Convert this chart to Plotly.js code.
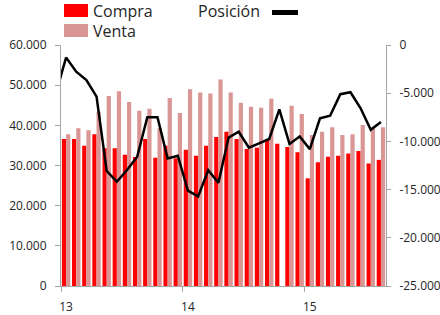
<!DOCTYPE html>
<html>
<head>
<meta charset="utf-8">
<script src="https://cdn.plot.ly/plotly-3.0.1.min.js"></script>
<style>
  html, body { margin: 0; padding: 0; background: #fff; }
  #chart { width: 440px; height: 315px; }
</style>
</head>
<body>
<div id="chart"></div>
<script>
// Months Jan 2013 .. Aug 2015 (index 0..31); index -1 = Dec 2012 (only the clipped line start is visible)
var months = [];
for (var i = 0; i < 32; i++) months.push(i);

var compra = [36600, 36600, 34900, 37800, 34300, 34300, 32700, 32100, 36600, 31900, 34900, 31800,
              33900, 32400, 34900, 37100, 38400, 36600, 34100, 34400, 36600, 35400, 34600, 33300,
              26800, 30800, 32200, 32400, 33000, 33600, 30500, 31400];

var venta = [37800, 39300, 38800, 43400, 47300, 48500, 45800, 43600, 44100, 39300, 46800, 43100,
             49000, 48200, 47900, 51400, 48200, 45600, 44600, 44400, 46600, null, 44900, 42800,
             37600, 38400, 39500, 37600, 37800, 40100, 39300, 39500];

var posMonths = [-1].concat(months);
var posicion = [-5000, -1300, -2770, -3630, -5360, -13070, -14180, -12970, -11590, -7500, -7500, -11760, -11480,
                -15100, -15700, -13000, -14300, -9600, -9000, -10650, -10200, -9750, -6670, -10270, -9500,
                -10800, -7600, -7330, -5100, -4900, -6570, -8800, -8000];

var yearTickVals = [0, 12, 24];
var yearTickText = ['13', '14', '15'];

var rightTickVals = [0, -5000, -10000, -15000, -20000, -25000];
var rightTickText = ['0', '-5.000', '-10.000', '-15.000', '-20.000', '-25.000'];

var FONT = 'Open Sans, Noto Sans, sans-serif';
var AXIS = '#A6A6A6';
var TXT = '#262626';

var traces = [
  { type: 'bar', name: 'Compra', x: months, y: compra, marker: { color: '#FF0000' }, yaxis: 'y', showlegend: false },
  { type: 'bar', name: 'Venta', x: months, y: venta, marker: { color: '#D99694' }, yaxis: 'y', showlegend: false },
  { type: 'scatter', mode: 'lines', name: 'Posición', x: posMonths, y: posicion, yaxis: 'y2',
    line: { color: '#000000', width: 2.5 }, showlegend: false }
];

// plot area: x 61..386, y 45..286
function px(X) { return (X - 61) / 325; }
function py(Y) { return (286 - Y) / 241; }

var layout = {
  width: 440, height: 315,
  margin: { l: 61, r: 54, t: 45, b: 29, pad: 0 },
  paper_bgcolor: '#ffffff', plot_bgcolor: '#ffffff',
  separators: ',.',
  font: { family: FONT, size: 12, color: TXT },
  barmode: 'group', bargap: 0.17, bargroupgap: 0,
  showlegend: false,
  xaxis: {
    range: [-0.5, 31.5], showgrid: false, zeroline: false,
    showline: true, linecolor: AXIS, linewidth: 1,
    tickmode: 'array', tickvals: yearTickVals, ticktext: yearTickText,
    ticks: '', ticklabelstandoff: 10,
    minor: { tick0: -0.5, dtick: 12, ticks: 'outside', ticklen: 5, tickcolor: AXIS, showgrid: false },
    tickfont: { family: FONT, size: 12, color: TXT }
  },
  yaxis: {
    range: [0, 60000], dtick: 10000, tickformat: ',', showgrid: false, zeroline: false,
    showline: true, linecolor: AXIS, linewidth: 1,
    ticks: 'outside', ticklen: 5, tickcolor: AXIS, ticklabelstandoff: 6,
    tickfont: { family: FONT, size: 12, color: TXT }
  },
  yaxis2: {
    overlaying: 'y', side: 'right', range: [-25000, 0], showgrid: false, zeroline: false,
    tickmode: 'array', tickvals: rightTickVals, ticktext: rightTickText,
    showline: true, linecolor: AXIS, linewidth: 1,
    ticks: 'outside', ticklen: 4, tickcolor: AXIS, ticklabelstandoff: 6,
    tickfont: { family: FONT, size: 12, color: TXT }
  },
  shapes: [
    { type: 'rect', xref: 'paper', yref: 'paper', x0: px(64), x1: px(88), y0: py(17), y1: py(4),
      fillcolor: '#FF0000', line: { width: 0 } },
    { type: 'rect', xref: 'paper', yref: 'paper', x0: px(64), x1: px(88), y0: py(37), y1: py(24),
      fillcolor: '#D99694', line: { width: 0 } },
    { type: 'line', xref: 'paper', yref: 'paper', x0: px(272), x1: px(298), y0: py(12.5), y1: py(12.5),
      line: { color: '#000000', width: 5 } }
  ],
  annotations: [
    { text: 'Compra', xref: 'paper', yref: 'paper', x: px(91), y: py(11), xanchor: 'left', yanchor: 'middle',
      showarrow: false, font: { family: FONT, size: 16, color: TXT } },
    { text: 'Venta', xref: 'paper', yref: 'paper', x: px(91), y: py(31), xanchor: 'left', yanchor: 'middle',
      showarrow: false, font: { family: FONT, size: 16, color: TXT } },
    { text: 'Posición', xref: 'paper', yref: 'paper', x: px(196), y: py(11), xanchor: 'left', yanchor: 'middle',
      showarrow: false, font: { family: FONT, size: 16, color: TXT } }
  ]
};

Plotly.newPlot('chart', traces, layout, { displayModeBar: false, staticPlot: true });
</script>
</body>
</html>
